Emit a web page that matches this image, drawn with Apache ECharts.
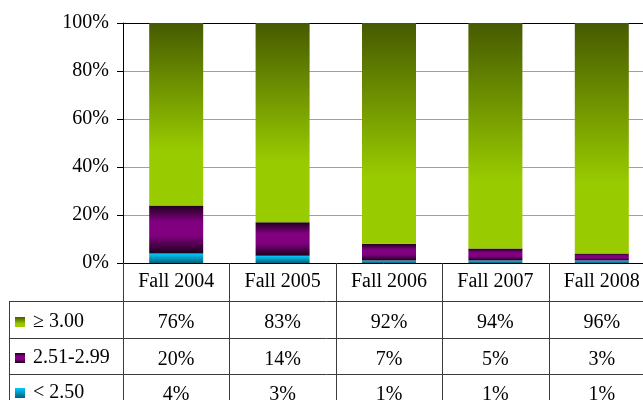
<!DOCTYPE html>
<html>
<head>
<meta charset="utf-8">
<script src="https://cdn.jsdelivr.net/npm/echarts@6/dist/echarts.min.js"></script>
<style>html,body{margin:0;padding:0;background:#fff}#c{width:643px;height:400px}</style>
</head>
<body>
<div id="c"></div>
<script>
const categories = ['Fall 2004', 'Fall 2005', 'Fall 2006', 'Fall 2007', 'Fall 2008'];
const seriesNames = ['\u2265 3.00', '2.51-2.99', '< 2.50'];
const ge300 = [76, 83, 92, 94, 96];
const mid251 = [20, 14, 7, 5, 3];
const low250 = [4, 3, 1, 1, 1];
const yTickValues = [0, 20, 40, 60, 80, 100];

const FONT = 'Liberation Serif';
const G = echarts.graphic.LinearGradient;
const greenGrad = new G(0, 0, 0, 1, [
  {offset: 0, color: '#465a00'}, {offset: 0.7, color: '#99cc00'}, {offset: 1, color: '#99cc00'}]);
const purpleGrad = new G(0, 0, 0, 1, [
  {offset: 0, color: '#1e001c'}, {offset: 0.33, color: '#800080'}, {offset: 0.63, color: '#800080'}, {offset: 1, color: '#1e001c'}]);
const cyanGrad = new G(0, 0, 0, 1, [
  {offset: 0, color: '#00ccff'}, {offset: 1, color: '#00607a'}]);

const legendRowTops = [312, 348, 383];
function legendFor(i) {
  return {
    orient: 'vertical', left: 15, top: legendRowTops[i], padding: 0,
    itemWidth: 10, itemHeight: 10,
    icon: 'rect',
    data: [seriesNames[i]],
    textStyle: {fontFamily: FONT, fontSize: 20, color: '#000', lineHeight: 20, padding: [0, 0, 0, 3]},
    selectedMode: false
  };
}

const chart = echarts.init(document.getElementById('c'), null, {renderer: 'canvas'});
chart.setOption({
  animation: false,
  backgroundColor: '#fff',
  grid: {left: 123, top: 23, right: -12, bottom: 137, containLabel: false, outerBoundsMode: 'none'},
  legend: [legendFor(0), legendFor(1), legendFor(2)],
  xAxis: [{
    type: 'category', data: categories,
    axisLine: {lineStyle: {color: '#000', width: 1}},
    axisTick: {show: false},
    axisLabel: {
      interval: 0, margin: 0,
      formatter: function (v, i) {
        return '{h|' + v + '}\n{r1|' + ge300[i] + '%}\n{r2|' + mid251[i] + '%}\n{r3|' + low250[i] + '%}';
      },
      rich: {
        h: {fontFamily: FONT, fontSize: 20, color: '#000', lineHeight: 38},
        r1: {fontFamily: FONT, fontSize: 20, color: '#000', lineHeight: 44},
        r2: {fontFamily: FONT, fontSize: 20, color: '#000', lineHeight: 30},
        r3: {fontFamily: FONT, fontSize: 20, color: '#000', lineHeight: 40}
      }
    }
  }, {
    type: 'category', data: categories, position: 'top',
    axisLine: {lineStyle: {color: '#000', width: 1}},
    axisTick: {show: false}, axisLabel: {show: false}
  }],
  yAxis: {
    type: 'value', min: yTickValues[0], max: yTickValues[yTickValues.length - 1], interval: 20,
    axisLine: {show: true, lineStyle: {color: '#000'}},
    axisTick: {show: true, length: 6, lineStyle: {color: '#000'}},
    axisLabel: {formatter: '{value}%', margin: 14, fontFamily: FONT, fontSize: 20, color: '#000'},
    splitLine: {lineStyle: {color: '#a0a0a0', width: 1}}
  },
  series: [
    {name: seriesNames[2], type: 'bar', stack: 't', data: low250, barWidth: 54, itemStyle: {color: cyanGrad}},
    {name: seriesNames[1], type: 'bar', stack: 't', data: mid251, barWidth: 54, itemStyle: {color: purpleGrad}},
    {name: seriesNames[0], type: 'bar', stack: 't', data: ge300, barWidth: 54, itemStyle: {color: greenGrad}}
  ]
});

// table grid lines, positioned from the category axis scale
const c0 = chart.convertToPixel({xAxisIndex: 0}, 0);
const c1 = chart.convertToPixel({xAxisIndex: 0}, 1);
const band = c1 - c0;
const axisY = chart.convertToPixel({yAxisIndex: 0}, 0);
const rowLines = [301, 338, 374];
const lineColor = '#3c3c3c';
const gfx = [];
for (let i = 0; i <= categories.length; i++) {
  const x = Math.round(c0 - band / 2 + i * band) + 0.5;
  gfx.push({type: 'line', shape: {x1: x, y1: axisY, x2: x, y2: 400}, style: {stroke: lineColor, lineWidth: 1}, z: 10});
}
gfx.push({type: 'line', shape: {x1: 9.5, y1: rowLines[0], x2: 9.5, y2: 400}, style: {stroke: lineColor, lineWidth: 1}, z: 10});
rowLines.forEach(function (y) {
  gfx.push({type: 'line', shape: {x1: 9, y1: y + 0.5, x2: 700, y2: y + 0.5}, style: {stroke: lineColor, lineWidth: 1}, z: 10});
});
chart.setOption({graphic: gfx});
</script>
</body>
</html>
